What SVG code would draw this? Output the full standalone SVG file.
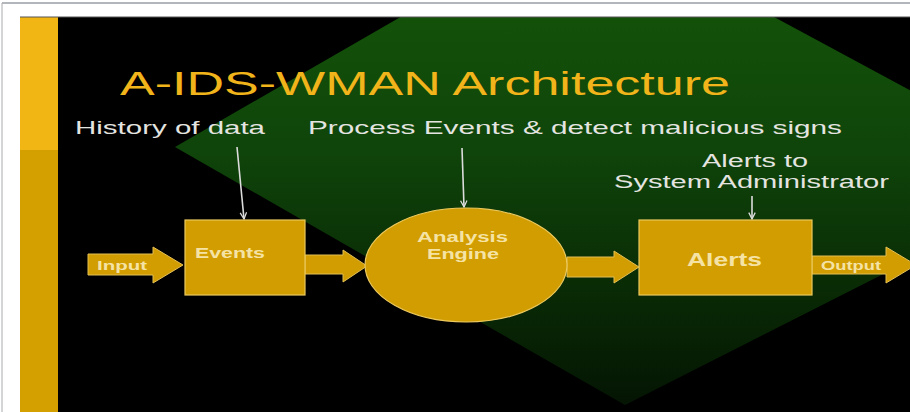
<svg xmlns="http://www.w3.org/2000/svg" width="910" height="412" viewBox="0 0 910 412">
  <style>
    .note { font-family: "Liberation Sans", Arial, sans-serif; fill: #e4e4e0; }
    .title { font-family: "Liberation Sans", Arial, sans-serif; fill: #f1b41a; }
    .lbl { font-family: "Liberation Sans", Arial, sans-serif; font-weight: bold; fill: #f5e3a6; }
    .block { fill: #d29d00; stroke: #ecc95e; stroke-width: 1.2; }
    .arrow { fill: #d29d00; stroke: #e3bf55; stroke-width: 1; }
    .pointer { stroke: #dcdcdc; stroke-width: 1.6; fill: none; marker-end: url(#tip); }
  </style>
  <defs>
    <linearGradient id="greenFade" gradientUnits="userSpaceOnUse" x1="0" y1="17" x2="0" y2="405">
      <stop offset="0" stop-color="#135109"/>
      <stop offset="0.35" stop-color="#0f440a"/>
      <stop offset="0.7" stop-color="#092b05"/>
      <stop offset="1" stop-color="#041503"/>
    </linearGradient>
    <clipPath id="slideArea">
      <rect x="20" y="17" width="890" height="395"/>
    </clipPath>
    <marker id="tip" viewBox="0 0 10 10" refX="9" refY="5" markerWidth="5" markerHeight="5" orient="auto" markerUnits="strokeWidth">
      <path d="M1,1 L9,5 L1,9" fill="none" stroke="#dcdcdc" stroke-width="1.6"/>
    </marker>
  </defs>

  <!-- page frame -->
  <rect x="0" y="0" width="910" height="412" fill="#ffffff"/>
  <line x1="2" y1="3" x2="910" y2="3" stroke="#9a9ea4" stroke-width="1.5"/>
  <line x1="2" y1="3" x2="2" y2="412" stroke="#a8aaae" stroke-width="1"/>

  <!-- slide background -->
  <g clip-path="url(#slideArea)">
    <rect x="20" y="17" width="890" height="395" fill="#000000"/>
    <polygon points="581,-87 1073,178 625,405 175,147" fill="url(#greenFade)"/>
  </g>
  <rect x="20" y="17" width="38" height="133" fill="#f2b614"/>
  <rect x="20" y="150" width="38" height="262" fill="#d4a000"/>
  <line x1="20" y1="17" x2="910" y2="17" stroke="#555" stroke-width="1"/>

  <!-- heading and annotations -->
  <text class="title" x="120" y="95" font-size="33" textLength="610" lengthAdjust="spacingAndGlyphs">A-IDS-WMAN Architecture</text>
  <text class="note" x="75" y="134" font-size="19" textLength="190" lengthAdjust="spacingAndGlyphs">History of data</text>
  <text class="note" x="308" y="134" font-size="19" textLength="534" lengthAdjust="spacingAndGlyphs">Process Events &amp; detect malicious signs</text>
  <text class="note" x="702" y="167" font-size="18" textLength="106" lengthAdjust="spacingAndGlyphs">Alerts to</text>
  <text class="note" x="614" y="188" font-size="18" textLength="275" lengthAdjust="spacingAndGlyphs">System Administrator</text>

  <!-- connectors -->
  <g id="connectors">
    <line class="pointer" x1="237" y1="147" x2="244" y2="219"/>
    <line class="pointer" x1="462" y1="148" x2="464" y2="207"/>
    <line class="pointer" x1="752" y1="196" x2="752" y2="219"/>
    <path class="arrow" d="M88,254 H153 V247 L183,265 L153,283 V275 H88 Z"/>
    <text class="lbl" x="97" y="270" font-size="13" textLength="50" lengthAdjust="spacingAndGlyphs">Input</text>
    <path class="arrow" d="M305,255 H343 V250 L367,266 L343,282 V274 H305 Z"/>
    <path class="arrow" d="M567,257 H614 V251 L639,267 L614,283 V277 H567 Z"/>
    <path class="arrow" d="M812,256 H886 V247 L916,265 L886,283 V274 H812 Z"/>
    <text class="lbl" x="821" y="270" font-size="13" textLength="60" lengthAdjust="spacingAndGlyphs">Output</text>
  </g>

  <!-- nodes -->
  <g id="events">
    <rect class="block" x="185" y="220" width="120" height="75"/>
    <text class="lbl" x="195" y="258" font-size="15" textLength="70" lengthAdjust="spacingAndGlyphs">Events</text>
  </g>
  <g id="engine">
    <ellipse class="block" cx="466" cy="265" rx="101" ry="57"/>
    <text class="lbl" x="417" y="242" font-size="14" textLength="91" lengthAdjust="spacingAndGlyphs">Analysis</text>
    <text class="lbl" x="427" y="259" font-size="14" textLength="72" lengthAdjust="spacingAndGlyphs">Engine</text>
  </g>
  <g id="alerts">
    <rect class="block" x="639" y="220" width="173" height="75"/>
    <text class="lbl" x="687" y="266" font-size="18" textLength="75" lengthAdjust="spacingAndGlyphs">Alerts</text>
  </g>
</svg>
